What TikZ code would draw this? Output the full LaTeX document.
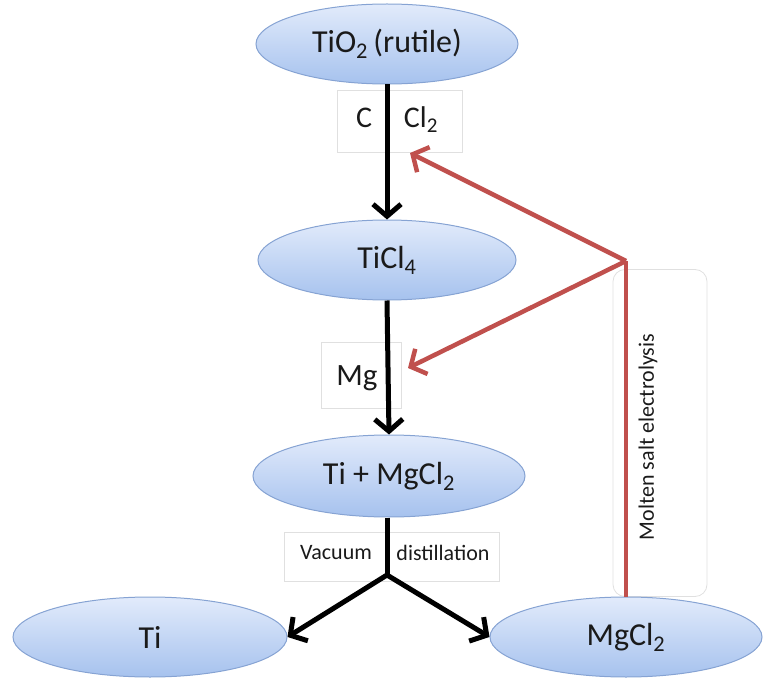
\documentclass[tikz,border=0pt]{standalone}
\usepackage{fontspec}
\setmainfont{Carlito}
\usetikzlibrary{shapes.geometric,arrows.meta,calc}
\definecolor{elltop}{HTML}{E2EBFB}
\definecolor{ellbot}{HTML}{A6C2EE}
\definecolor{ellborder}{HTML}{86A3D3}
\definecolor{redc}{HTML}{C0504D}
\definecolor{txt}{HTML}{1A1A1A}
\definecolor{boxgray}{HTML}{E0E0E0}
\begin{document}
\begin{tikzpicture}[x=1pt,y=-1pt,
  blob/.style={ellipse, draw=ellborder, line width=1pt, top color=elltop, bottom color=ellbot,
    inner sep=0pt, text=txt, font=\fontsize{32}{36}\selectfont},
  lblbox/.style={draw=boxgray, line width=0.8pt, inner sep=0pt},
  lbltext/.style={text=txt, inner sep=0pt},
  flow/.style={line width=5pt, draw=black, -{Straight Barb[length=12pt,width=28pt]}},
  recycle/.style={line width=4.5pt, draw=redc, -{Straight Barb[length=12pt,width=28pt]}},
  redline/.style={line width=4.5pt, draw=redc}
]
\useasboundingbox (0,0) rectangle (772,682);

% label boxes
\node[lblbox, minimum width=125pt, minimum height=62pt] (cbox) at (400,121) {};
\node[lblbox, minimum width=80pt, minimum height=66pt] (mgbox) at (361,375) {};
\node[lblbox, minimum width=215pt, minimum height=49pt] (vbox) at (392,557) {};
\node[lblbox, rounded corners=12pt, minimum width=94pt, minimum height=327pt] (mbox) at (660,433) {};

% ellipses
\node[blob, minimum width=262pt, minimum height=80pt] (tio2) at (387,44) {TiO\textsubscript{2}\,(rutile)};
\node[blob, minimum width=258pt, minimum height=80pt] (ticl4) at (387,260) {TiCl\textsubscript{4}};
\node[blob, minimum width=272pt, minimum height=82pt] (timg) at (389,476) {Ti + MgCl\textsubscript{2}};
\node[blob, minimum width=274pt, minimum height=80pt] (ti) at (150,637) {Ti};
\node[blob, minimum width=272pt, minimum height=80pt] (mgcl2) at (626,637) {MgCl\textsubscript{2}};

% labels
\node[lbltext, font=\fontsize{30}{34}\selectfont] (lc) at (364,118) {C};
\node[lbltext, font=\fontsize{30}{34}\selectfont] (lcl) at (421,120) {Cl\textsubscript{2}};
\node[lbltext, font=\fontsize{31}{34}\selectfont] (lmg) at (357,378) {Mg};
\node[lbltext, font=\fontsize{22}{26}\selectfont] (lvac) at (336,553) {Vacuum};
\node[lbltext, font=\fontsize{22}{26}\selectfont] (ldist) at (443,553) {distillation};
\node[lbltext, font=\fontsize{22}{26}\selectfont, rotate=90] (lmol) at (648,437) {Molten salt electrolysis};

% black flow
\coordinate (split) at (387,575);
\draw[flow] (tio2.south) -- (ticl4.north);
\draw[flow] (ticl4.south) -- (timg.south |- timg.north);
\draw[line width=5pt] (timg.south -| split) -- (split);
\draw[flow] (split) -- (ti.east);
\draw[flow] (split) -- (mgcl2.west);

% red recycle
\coordinate (rj) at (626,261);
\coordinate (cltip) at (410,153);
\coordinate (mgin) at (408,368);
\draw[redline] (mgcl2.north) -- (rj);
\draw[recycle] (rj) -- (cltip);
\draw[recycle] (rj) -- (mgin);
\end{tikzpicture}
\end{document}
